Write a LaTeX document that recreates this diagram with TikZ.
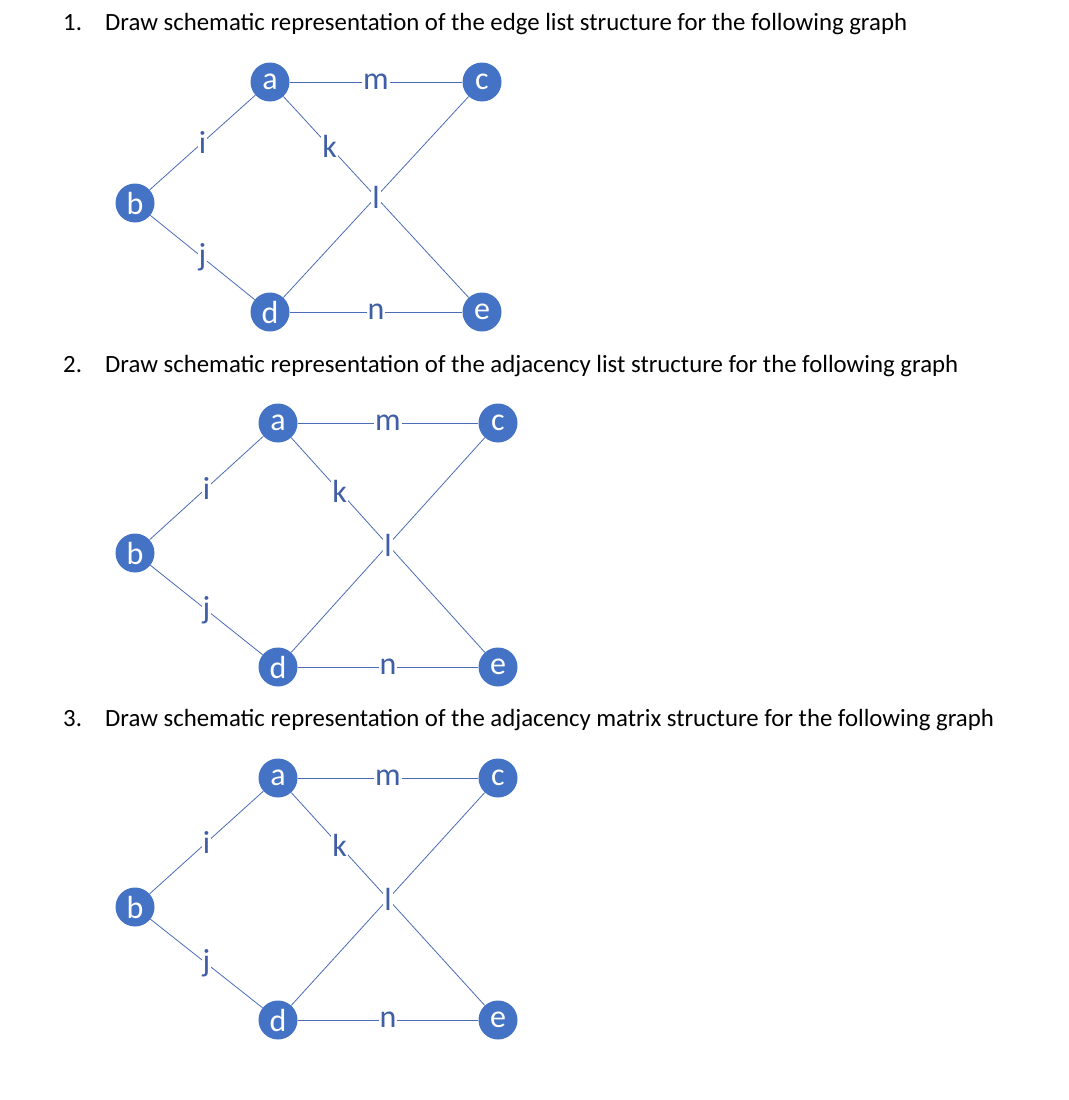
\documentclass[tikz,border=0pt]{standalone}
\usepackage{fontspec}
\setmainfont{Carlito}

\definecolor{vertexblue}{HTML}{4472C4}
\definecolor{edgeblue}{HTML}{4A6BB5}
\definecolor{labelblue}{HTML}{3F5EA6}

\tikzset{
    vertex/.style={circle, fill=vertexblue, text=white, minimum size=39pt, inner sep=0pt,
        font=\fontsize{32}{32}\selectfont},
    edgelbl/.style={fill=white, text=labelblue, inner sep=1pt,
        font=\fontsize{32}{32}\selectfont},
    link/.style={draw=edgeblue, line width=0.8pt},
    heading/.style={anchor=base west, inner sep=0pt, font=\fontsize{24.8}{24.8}\selectfont}
}

\begin{document}
\begin{tikzpicture}[x=1pt, y=-1pt]
    \useasboundingbox (0,0) rectangle (1068,1100);
    % questions
    \node[heading] (n1) at (63,30) {1.};
    \node[heading] (q1) at (105,30) {Draw schematic representation of the edge list structure for the following graph};
    \node[heading] (n2) at (63,372) {2.};
    \node[heading] (q2) at (105,372) {Draw schematic representation of the adjacency list structure for the following graph};
    \node[heading] (n3) at (63,726) {3.};
    \node[heading] (q3) at (105,726) {Draw schematic representation of the adjacency matrix structure for the following graph};
    % the same graph three times
    \foreach \g/\ax/\cx/\ty/\my/\dy in {1/270/482/82/203/312, 2/278/498/423/553/667, 3/278/498/778/907/1020}{
        \node[vertex] (a\g) at (\ax,\ty) {a};
        \node[vertex] (c\g) at (\cx,\ty) {c};
        \node[vertex] (b\g) at (135,\my) {b};
        \node[vertex] (d\g) at (\ax,\dy) {d};
        \node[vertex] (e\g) at (\cx,\dy) {e};
        \draw[link] (a\g) -- node[edgelbl] {m} (c\g);
        \draw[link] (b\g) -- node[edgelbl] {i} (a\g);
        \draw[link] (b\g) -- node[edgelbl] {j} (d\g);
        \draw[link] (a\g) -- node[edgelbl, pos=0.25] {k} (e\g);
        \draw[link] (d\g) -- node[edgelbl] {l} (c\g);
        \draw[link] (d\g) -- node[edgelbl] {n} (e\g);
    }
\end{tikzpicture}
\end{document}
